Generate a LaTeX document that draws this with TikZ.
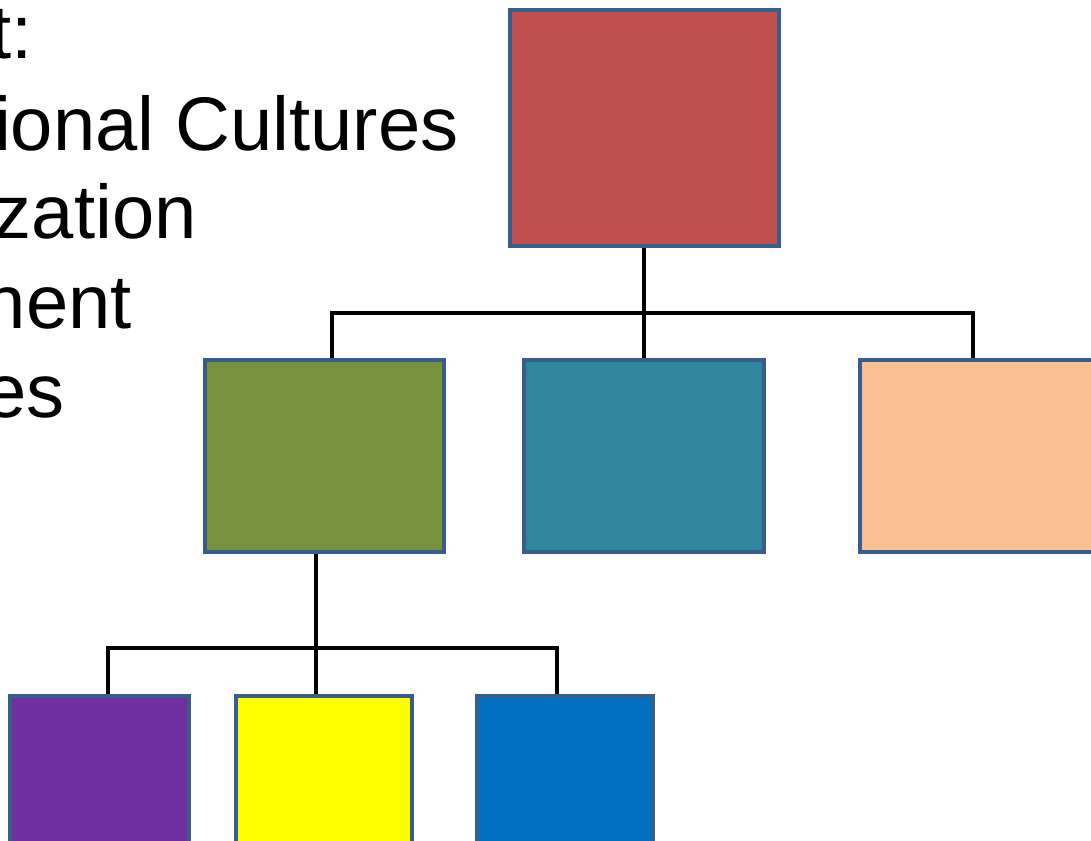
\documentclass[tikz,border=0pt]{standalone}
\usepackage{fontspec}
\setmainfont{Liberation Sans}
\usetikzlibrary{backgrounds}
\definecolor{cred}{HTML}{C0504D}
\definecolor{cgreen}{HTML}{77933C}
\definecolor{cteal}{HTML}{31859C}
\definecolor{cpeach}{HTML}{FAC090}
\definecolor{cpurple}{HTML}{7030A0}
\definecolor{cyellow}{HTML}{FFFF00}
\definecolor{cblue}{HTML}{0070C0}
\definecolor{cborder}{HTML}{385D8A}
\tikzset{
  box/.style={rectangle, draw=cborder, line width=3.3pt, inner sep=0pt},
  conn/.style={draw=black, line width=3.5pt},
  txt/.style={anchor=base east, inner sep=0pt, font=\fontsize{57pt}{66pt}\selectfont}
}
\begin{document}
\begin{tikzpicture}[x=0.75pt,y=-0.75pt]
\clip (0,0) rectangle (1091,840);
\useasboundingbox (0,0) rectangle (1091,840);
% text
\node[txt] (t1) at (33,58) {t:};
\node[txt] (t2) at (459,150) {ional Cultures};
\node[txt] (t3) at (197,238) {zation};
\node[txt] (t4) at (132,328) {nent};
\node[txt] (t5) at (65,417) {es};
% boxes
\node[box, fill=cred, minimum width=201.75pt, minimum height=177pt] (red) at (644.5,128) {};
\node[box, fill=cgreen, minimum width=179.25pt, minimum height=144pt] (green) at (324.5,456) {};
\node[box, fill=cteal, minimum width=180pt, minimum height=144pt] (teal) at (644,456) {};
\node[box, fill=cpeach, minimum width=180pt, minimum height=144pt] (peach) at (980,456) {};
\node[box, fill=cpurple, minimum width=134.25pt, minimum height=120pt] (purple) at (99.5,776) {};
\node[box, fill=cyellow, minimum width=132pt, minimum height=120pt] (yellow) at (324,776) {};
\node[box, fill=cblue, minimum width=132pt, minimum height=120pt] (blue) at (565,776) {};
% connectors
\coordinate (busL) at (332,313);
\coordinate (busR) at (973,313);
\coordinate (busM) at (644,313);
\coordinate (bL) at (108,648);
\coordinate (bM) at (316,648);
\coordinate (bR) at (557,648);
\begin{scope}[on background layer]
\draw[conn] (red.south -| busM) -- (teal.north -| busM);
\draw[conn] (green.north -| busL) -- (busL) -- (busR) -- (peach.north -| busR);
\draw[conn] (green.south -| bM) -- (yellow.north -| bM);
\draw[conn] (purple.north -| bL) -- (bL) -- (bR) -- (blue.north -| bR);
\end{scope}
\end{tikzpicture}
\end{document}
